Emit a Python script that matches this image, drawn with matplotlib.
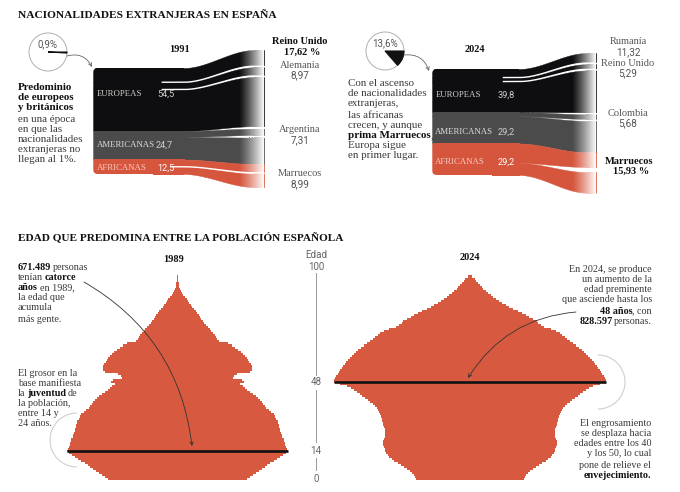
import numpy as np
import matplotlib
matplotlib.use('Agg')
import matplotlib.pyplot as plt
from matplotlib.patches import Circle, Wedge, Arc, Polygon
from matplotlib.transforms import IdentityTransform

# --- datos: nacionalidades extranjeras (% sobre extranjeros) ---
grupos = ['EUROPEAS', 'AMERICANAS', 'AFRICANAS']
grupos_1991 = [54.5, 24.7, 12.5]
grupos_2024 = [39.8, 29.2, 29.2]
paises_1991 = ['Reino Unido', 'Alemania', 'Argentina', 'Marruecos']
pct_paises_1991 = [17.62, 8.97, 7.31, 8.99]
grupo_paises_1991 = [0, 0, 1, 2]
destacado_1991 = 0
paises_2024 = ['Rumanía', 'Reino Unido', 'Colombia', 'Marruecos']
pct_paises_2024 = [11.32, 5.29, 5.68, 15.93]
grupo_paises_2024 = [0, 0, 1, 2]
destacado_2024 = 3
extranjeros_1991 = 0.9
extranjeros_2024 = 13.6

# --- datos: población por edad (miles de personas) ---
edades = np.arange(0, 101)
poblacion_1989 = np.array([
    425, 440, 458, 478, 498, 515, 530, 545, 565, 585,
    605, 625, 642, 660, 671.489, 665, 660, 656, 654, 650,
    645, 638, 634, 630, 626, 622, 618, 615, 612, 608,
    600, 594, 585, 570, 555, 540, 530, 520, 512, 500,
    488, 475, 460, 440, 420, 412, 398, 378, 405, 395,
    340, 345, 360, 440, 450, 452, 450, 445, 432, 428,
    422, 412, 400, 385, 368, 350, 330, 305, 250, 242,
    235, 228, 215, 205, 198, 188, 175, 162, 155, 145,
    138, 128, 120, 110, 100, 90, 82, 72, 62, 55,
    45, 36, 28, 22, 16, 12, 9, 7, 5, 4, 3]) * 1000
poblacion_2024 = np.array([
    330, 335, 340, 352, 365, 385, 400, 420, 440, 460,
    475, 490, 500, 510, 515, 518, 522, 528, 530, 526,
    520, 518, 516, 518, 515, 518, 522, 526, 530, 533,
    538, 540, 548, 552, 558, 568, 580, 590, 605, 622,
    640, 655, 668, 685, 705, 725, 748, 790, 828.597, 825,
    820, 812, 805, 795, 788, 780, 770, 762, 752, 740,
    730, 718, 705, 692, 680, 665, 645, 625, 610, 592,
    578, 560, 545, 520, 495, 450, 430, 415, 405, 385,
    360, 340, 318, 290, 262, 240, 218, 196, 175, 158,
    142, 125, 110, 95, 82, 70, 58, 48, 38, 28, 15]) * 1000
edad_max_1989 = 14
edad_max_2024 = 48
marcas_edad = [100, 48, 14, 0]

# --- estilo ---
NEGRO = '#0e0e10'
GRIS = '#4b4b4b'
ROJO = '#d6563d'
ROJO_PIR = '#d75a40'
colores_grupo = [NEGRO, GRIS, ROJO]
color_etiqueta = ['#cfcfcf', '#dddddd', '#f6cabd']
SERIF = 'Liberation Serif'
SANS = 'Roboto'
TXT = '#3a3a3a'

W, H = 680, 492
fig = plt.figure(figsize=(6.8, 4.92), dpi=100)
fig.patch.set_facecolor('white')


def ejes_px(x0, y0, x1, y1):
    ax = fig.add_axes([x0 / W, 1 - y1 / H, (x1 - x0) / W, (y1 - y0) / H])
    ax.set_axis_off()
    return ax


def suave(x, a=0.53, b=0.94):
    t = np.clip((x - a) / (b - a), 0, 1)
    return t * t * (3 - 2 * t)


def recorte_redondeado(x0, y_top, y_bot, r=4.5):
    # esquinas izquierdas redondeadas del bloque (coordenadas de píxel)
    ang = np.linspace(0, np.pi / 2, 8)
    pts = [(x0 + 60, -10), (x0 + 60, y_top)]
    pts += [(x0 + r - r * np.sin(a), y_top + r - r * np.cos(a)) for a in ang]
    pts += [(x0 + r - r * np.cos(a), y_bot - r + r * np.sin(a)) for a in ang]
    pts += [(x0 + 60, y_bot), (x0 + 60, 500), (700, 500), (700, -10)]
    pts = [(x, H - y) for x, y in pts]
    return Polygon(pts, closed=True, transform=IdentityTransform())


def dibujar_sankey(ax, valores, pct, grupo, lado, esc_der, hueco_px, linea,
                   expansion, subida_px, alto_px, recorte, esc_izq=0.7):
    total = sum(valores)
    u = total / alto_px
    xs = np.linspace(0, 1, 400)
    s = suave(xs)
    izq = np.concatenate([[0], np.cumsum(valores)])
    der = [-subida_px * u]
    for v, f in zip(valores, expansion):
        der.append(der[-1] + v * f)
    for g, v in enumerate(valores):
        items = [i for i in range(len(pct)) if grupo[i] == g and lado[i] == 'arriba']
        items += [-1]
        items += [i for i in range(len(pct)) if grupo[i] == g and lado[i] == 'abajo']
        w_izq = [pct[i] * esc_izq if i >= 0 else 0 for i in items]
        w_der = [pct[i] * esc_der[i] if i >= 0 else 0 for i in items]
        huecos = []
        for k, i in enumerate(items):
            if k == 0:
                h = hueco_px[i] * u if (i >= 0 and g > 0) else 0
            elif i >= 0:
                h = hueco_px[i] * u
            elif items[k - 1] >= 0:
                h = hueco_px[items[k - 1]] * u
            else:
                h = 0
            huecos.append(h)
        r = items.index(-1)
        w_izq[r] = v - sum(w_izq)
        w_der[r] = v * expansion[g] - sum(w_der) - sum(huecos)
        yl, yr = izq[g], der[g]
        bordes = []
        for k, i in enumerate(items):
            yr += huecos[k]
            tl, bl = yl, yl + w_izq[k]
            tr, br = yr, yr + w_der[k]
            top = tl + (tr - tl) * s
            bot = bl + (br - bl) * s
            pc = ax.fill_between(xs, top, bot, color=colores_grupo[g], lw=0.3,
                                 edgecolor=colores_grupo[g])
            pc.set_clip_path(recorte)
            bordes.append((tl, bl, tr, br))
            yl, yr = bl, br
        for k, i in enumerate(items):
            if i < 0 or linea[i] is None:
                continue
            tl, bl, tr, br = bordes[k]
            if lado[i] == 'arriba':
                y0, y1 = bl, br + huecos[k + 1] / 2
            else:
                y0, y1 = tl, tr - huecos[k] / 2
            m = xs >= linea[i]
            ax.plot(xs[m], (y0 + (y1 - y0) * s)[m], color='white', lw=1.0,
                    solid_capstyle='butt')
    return izq


def sankey_panel(x0, x1, y_top, alto_px, valores, pct, grupo, lado, esc_der,
                 hueco_px, linea, expansion, subida_px, x_num, desp_etq):
    total = sum(valores)
    u = total / alto_px
    ax = ejes_px(x0, 25, x1, 205)
    recorte = recorte_redondeado(x0, y_top, y_top + alto_px)
    izq = dibujar_sankey(ax, valores, pct, grupo, lado, esc_der, hueco_px, linea,
                         expansion, subida_px, alto_px, recorte)
    ylim = ((205 - y_top) * u, (25 - y_top) * u)
    grad = np.ones((1, 256, 4))
    grad[..., 3] = np.linspace(0, 1, 256) ** 1.2
    ax.imshow(grad, extent=(0.855, 1.0, ylim[0], ylim[1]), aspect='auto',
              zorder=10, interpolation='bilinear')
    ax.set_xlim(0, 1.005)
    ax.set_ylim(*ylim)
    for g, nombre in enumerate(grupos):
        yc = (izq[g] + izq[g + 1]) / 2 + desp_etq[g] * u
        ax.text(0.02, yc, nombre, family=SERIF, fontsize=6.3,
                color=color_etiqueta[g], va='center', ha='left', zorder=11)
        ax.text(x_num[g], yc, f'{valores[g]:.1f}'.replace('.', ','), family=SANS,
                fontsize=6.6, color='white' if g == 2 else '#d0d0d0',
                va='center', ha='left', zorder=11)
    return ax


# --- sankeys ---
sankey_panel(93, 265, 68, 106, grupos_1991, pct_paises_1991, grupo_paises_1991,
             ['arriba', 'arriba', 'arriba', 'abajo'], [0.75, 0.75, 0.75, 1.3],
             [2, 2, 2.5, 1.5], [0.40, 0.40, None, 0.45], [1.21, 1.32, 1.6], 18,
             [0.378, 0.368, 0.378], [-5, 0, 1])
sankey_panel(432, 597, 69, 106, grupos_2024, pct_paises_2024, grupo_paises_2024,
             ['arriba', 'arriba', 'arriba', 'abajo'], [0.75, 0.75, 0.75, 1.2],
             [2, 2, 2, 5], [0.43, 0.43, None, None], [1.38, 1.27, 1.28], 16,
             [0.40, 0.40, 0.40], [5, 4, 3])

# --- pirámides ---
PERSONAS_PX = 3040
Y0_PX, PX_EDAD = 479.4, 2.029
ylim_edad = ((Y0_PX - 486) / PX_EDAD, (Y0_PX - 262) / PX_EDAD)


def piramide(xc, media_px, pob, edad_max):
    ax = ejes_px(xc - media_px, 262, xc + media_px, 486)
    bordes = np.arange(-0.5, len(pob))
    ancho = np.append(pob, pob[-1]) / 2
    ax.fill_betweenx(bordes, -ancho, ancho, step='post', color=ROJO_PIR, lw=0)
    ax.plot([-pob[edad_max] / 2, pob[edad_max] / 2], [edad_max, edad_max],
            color='#111', lw=1.9, solid_capstyle='butt', zorder=3)
    ax.set_xlim(-media_px * PERSONAS_PX, media_px * PERSONAS_PX)
    ax.set_ylim(*ylim_edad)
    return ax


piramide(177.5, 127.5, poblacion_1989, edad_max_1989)
piramide(470, 140, poblacion_2024, edad_max_2024)

ax_e = ejes_px(300, 262, 332, 486)
ax_e.set_xlim(-1, 1)
ax_e.set_ylim(*ylim_edad)
for e in marcas_edad:
    if e == max(marcas_edad):
        ax_e.text(0, e + 4.5, str(e), family=SANS, fontsize=7, color='#666',
                  ha='center', va='center')
        ax_e.text(0, e + 10.5, 'Edad', family=SANS, fontsize=7, color='#666',
                  ha='center', va='center')
    else:
        ax_e.text(0, e, str(e), family=SANS, fontsize=7, color='#666',
                  ha='center', va='center')
for a, b in [(101.8, 51.6), (44.2, 18.4), (10.5, 4.6)]:
    ax_e.plot([0, 0], [a, b], color='#9a9a9a', lw=0.7)

# --- capa de textos en píxeles ---
ax_t = fig.add_axes([0, 0, 1, 1])
ax_t.set_xlim(0, W)
ax_t.set_ylim(H, 0)
ax_t.set_axis_off()
ax_t.set_zorder(20)
ax_t.patch.set_alpha(0)
rend = fig.canvas.get_renderer()


def linea_rica(x, y, partes, ha='left', size=7.3, color=TXT):
    textos, anchos = [], []
    esp = size * 100 / 72 * 0.17
    for k, (txt, negrita) in enumerate(partes):
        t = ax_t.text(0, y, txt.strip(), family=SERIF, fontsize=size,
                      fontweight='bold' if negrita else 'normal',
                      color='#111' if negrita else color, va='center', ha='left')
        textos.append(t)
        w = t.get_window_extent(renderer=rend).width
        if k > 0 and (txt.startswith(' ') or partes[k - 1][0].endswith(' ')):
            w_pre = esp
        else:
            w_pre = 0
        anchos.append((w_pre, w))
    total = sum(a + b for a, b in anchos)
    x0 = x - total if ha == 'right' else x
    for t, (pre, w) in zip(textos, anchos):
        x0 += pre
        t.set_x(x0)
        x0 += w


ax_t.text(18, 16, 'NACIONALIDADES EXTRANJERAS EN ESPAÑA', family=SERIF,
          fontsize=8.2, fontweight='bold', color='#111', va='center')
ax_t.text(18, 237, 'EDAD QUE PREDOMINA ENTRE LA POBLACIÓN ESPAÑOLA', family=SERIF,
          fontsize=8.1, fontweight='bold', color='#111', va='center')
for txt, x, y in [('1991', 180, 49), ('2024', 475, 50), ('1989', 174, 260),
                  ('2024', 470, 258)]:
    ax_t.text(x, y, txt, family=SERIF, fontsize=7.5, fontweight='bold',
              color='#111', ha='center', va='center')

izq_1991 = [[('Predominio', True)], [('de europeos', True)], [('y británicos', True)],
            [('en una época', False)], [('en que las', False)],
            [('nacionalidades', False)], [('extranjeras no', False)],
            [('llegan al 1%.', False)]]
for partes, y in zip(izq_1991, [87, 98, 108, 119, 129, 139, 149, 159]):
    linea_rica(18, y, partes, size=7.9)

izq_2024 = [[('Con el ascenso', False)], [('de nacionalidades', False)],
            [('extranjeras,', False)], [('las africanas', False)],
            [('crecen, y aunque', False)],
            [('prima Marruecos', True), (',', False)],
            [('Europa sigue', False)], [('en primer lugar.', False)]]
for partes, y in zip(izq_2024, [83, 94, 104, 115, 125, 136, 146, 156]):
    linea_rica(348, y, partes, size=7.9)


def fmt_pct(v):
    return f'{v:.2f}'.replace('.', ',')


pos_1991 = [(300, 42), (300, 65), (300, 130), (300, 174)]
pos_2024 = [(628, 42), (628, 63), (628, 113), (629, 161)]
for paises, pct, dest, pos in [(paises_1991, pct_paises_1991, destacado_1991, pos_1991),
                               (paises_2024, pct_paises_2024, destacado_2024, pos_2024)]:
    for i, (p, v) in enumerate(zip(paises, pct)):
        x, y = pos[i]
        if i == dest:
            ax_t.text(x, y, p, family=SERIF, fontsize=7.5, fontweight='bold',
                      color='#111', ha='center', va='center')
            ax_t.text(x + 2, y + 10, fmt_pct(v) + ' %', family=SERIF, fontsize=7.5,
                      fontweight='bold', color='#111', ha='center', va='center')
        else:
            ax_t.text(x, y, p, family=SERIF, fontsize=7.5, color='#555',
                      ha='center', va='center')
            ax_t.text(x, y + 10, fmt_pct(v), family=SANS, fontsize=7.2,
                      color='#555', ha='center', va='center')

# círculos de porcentaje de extranjeros
for (cx, cy), pct_ext, destino in [((48, 52), extranjeros_1991, (92, 67)),
                                    ((385, 51), extranjeros_2024, (429, 71))]:
    ax_t.add_patch(Circle((cx, cy), 19, fill=False, ec='#b0b0b0', lw=0.7))
    ax_t.add_patch(Wedge((cx, cy), 19, 0, 360 * pct_ext / 100, fc='#111',
                         ec='#111', lw=0.8))
    ax_t.text(cx, cy - 8, f'{pct_ext:.1f}%'.replace('.', ','), family=SANS,
              fontsize=7, color='#555', ha='center', va='center')
    ax_t.annotate('', xy=destino, xytext=(cx + 19, cy + 4),
                  arrowprops=dict(arrowstyle='->', color='#666', lw=0.6,
                                  mutation_scale=6, shrinkA=0, shrinkB=0,
                                  connectionstyle='arc3,rad=-0.4'))

# textos pirámide 1989
pers_1989 = f'{int(round(poblacion_1989[edad_max_1989])):,}'.replace(',', '.')
izq_1989 = [[(pers_1989, True), (' personas', False)],
            [('tenían ', False), ('catorce', True)],
            [('años', True), (' en 1989,', False)],
            [('la edad que', False)], [('acumula', False)], [('más gente.', False)]]
for partes, y in zip(izq_1989, [268, 278, 288, 298, 308, 319]):
    linea_rica(18, y, partes)
base_1989 = [[('El grosor en la', False)], [('base manifiesta', False)],
             [('la ', False), ('juventud', True), (' de', False)],
             [('la población,', False)], [('entre 14 y', False)],
             [('24 años.', False)]]
for partes, y in zip(base_1989, [373, 383, 393, 403, 414, 424]):
    linea_rica(18, y, partes)

pers_2024 = f'{int(round(poblacion_2024[edad_max_2024])):,}'.replace(',', '.')
der_2024 = [[('En 2024, se produce', False)], [('un aumento de la', False)],
            [('edad preminente', False)], [('que asciende hasta los', False)],
            [(f'{edad_max_2024} años', True), (', con', False)],
            [(pers_2024, True), (' personas.', False)]]
for partes, y in zip(der_2024, [269, 279, 289, 300, 311, 321]):
    linea_rica(652, y, partes, ha='right')
vejez = [[('El engrosamiento', False)], [('se desplaza hacia', False)],
         [('edades entre los 40', False)], [('y los 50, lo cual', False)],
         [('pone de relieve el', False)], [('envejecimiento.', True)]]
for partes, y in zip(vejez, [423, 433, 444, 454, 465, 475]):
    linea_rica(651, y, partes, ha='right')

ax_t.annotate('', xy=(192, 446), xytext=(84, 282),
              arrowprops=dict(arrowstyle='->', color='#333', lw=0.6,
                              mutation_scale=6, shrinkA=0, shrinkB=0,
                              connectionstyle='arc3,rad=-0.25'))
ax_t.annotate('', xy=(468, 378), xytext=(576, 312),
              arrowprops=dict(arrowstyle='->', color='#333', lw=0.6,
                              mutation_scale=6, shrinkA=0, shrinkB=0,
                              connectionstyle='arc3,rad=0.25'))
ax_t.add_patch(Arc((77, 440), 54, 54, theta1=90, theta2=270, color='#cfcfcf', lw=0.8))
ax_t.add_patch(Arc((598, 382), 54, 54, theta1=-90, theta2=90, color='#cfcfcf', lw=0.8))

fig.savefig('out.png', dpi=100)
